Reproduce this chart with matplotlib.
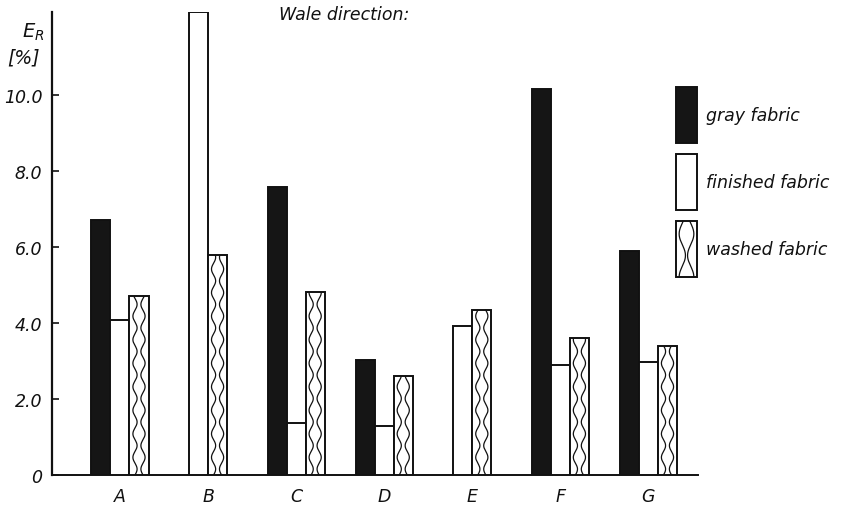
import matplotlib
matplotlib.use("Agg")
import matplotlib.pyplot as plt
import numpy as np
from matplotlib.patches import Rectangle

plt.rcParams["font.family"] = "DejaVu Sans"
plt.rcParams["mathtext.fontset"] = "dejavusans"

# residual elongation E_R [%] per sample, wale direction (nan = not measured)
samples = ["A", "B", "C", "D", "E", "F", "G"]
gray = [6.71, np.nan, 7.58, 3.03, np.nan, 10.18, 5.89]
finished = [4.09, 12.2, 1.37, 1.30, 3.93, 2.90, 2.98]
washed = [4.71, 5.79, 4.82, 2.61, 4.36, 3.61, 3.39]
series_names = ["gray fabric", "finished fabric", "washed fabric"]
y_ticks = [0, 2, 4, 6, 8, 10]
y_tick_labels = ["0", "2.0", "4.0", "6.0", "8.0", "10.0"]

BAR_W = 0.216
EDGE = "#111111"
LW = 1.4


def wavy_lines(ax, x0, w, h, y0=0.0, period=0.62, amp=0.11, lw=0.9):
    y = np.linspace(y0, y0 + h, 300)
    s = np.sin(2 * np.pi * (y - y0) / period)
    ax.plot(x0 + w * (0.29 + amp * s), y, color=EDGE, lw=lw, zorder=4,
            solid_capstyle="butt")
    ax.plot(x0 + w * (0.71 - amp * s), y, color=EDGE, lw=lw, zorder=4,
            solid_capstyle="butt")


def draw_bar(ax, x, h, kind):
    face = "#151515" if kind == "gray" else "white"
    ax.bar(x, h, BAR_W, color=face, edgecolor=EDGE, linewidth=LW, zorder=3)
    if kind == "washed":
        wavy_lines(ax, x - BAR_W / 2, BAR_W, h)


fig = plt.figure(figsize=(8.52, 5.06), dpi=100)
ax = fig.add_axes([0.061, 0.0593, 0.758, 0.915])

for i in range(len(samples)):
    present = [(k, v) for k, v in zip(["gray", "finished", "washed"],
                                      [gray[i], finished[i], washed[i]])
               if not np.isnan(v)]
    n = len(present)
    for j, (kind, val) in enumerate(present):
        x = i + (j - (n - 1) / 2) * BAR_W
        draw_bar(ax, x, val, kind)

ax.set_xlim(-0.772, 6.56)
ax.set_ylim(0, 12.2)

for side in ["top", "right"]:
    ax.spines[side].set_visible(False)
ax.spines["left"].set_linewidth(1.6)
ax.spines["bottom"].set_linewidth(1.4)
ax.spines["left"].set_color(EDGE)
ax.spines["bottom"].set_color(EDGE)

ax.set_yticks(y_ticks)
ax.set_yticklabels(y_tick_labels, fontsize=12.5, style="italic")
ax.tick_params(axis="y", direction="in", length=5, width=1.2, pad=7, colors=EDGE)
ax.set_xticks(range(len(samples)))
ax.set_xticklabels(samples, fontsize=12.5, style="italic")
ax.tick_params(axis="x", length=0, pad=9, colors=EDGE)

fig.text(0.026, 0.925, r"$E_R$", fontsize=14, color=EDGE)
fig.text(0.009, 0.875, "[%]", fontsize=13.5, style="italic", color=EDGE)
fig.text(0.328, 0.960, "Wale direction:", fontsize=12.5, style="italic", color=EDGE)

# legend built by hand: tall swatches with labels to the right
sw_x, sw_w, sw_h = 676 / 852, 21 / 852, 56 / 506
tops = [88, 155, 222]
for name, top in zip(series_names, tops):
    y0 = 1 - (top + 56) / 506
    face = "#151515" if name.startswith("gray") else "white"
    fig.add_artist(Rectangle((sw_x, y0), sw_w, sw_h, transform=fig.transFigure,
                             facecolor=face, edgecolor=EDGE, linewidth=LW))
    if name.startswith("washed"):
        yy = np.linspace(y0, y0 + sw_h, 200)
        s = np.cos(2 * np.pi * (yy - y0) / sw_h * 1.3)
        fig.add_artist(plt.Line2D(sw_x + sw_w * (0.3 - 0.15 * s), yy,
                                  transform=fig.transFigure, color=EDGE, lw=0.9))
        fig.add_artist(plt.Line2D(sw_x + sw_w * (0.7 + 0.15 * s), yy,
                                  transform=fig.transFigure, color=EDGE, lw=0.9))
    fig.text(706 / 852, 1 - (top + 28) / 506, name, fontsize=12.5, style="italic",
             va="center", color=EDGE)

fig.savefig("out.png", dpi=100)
